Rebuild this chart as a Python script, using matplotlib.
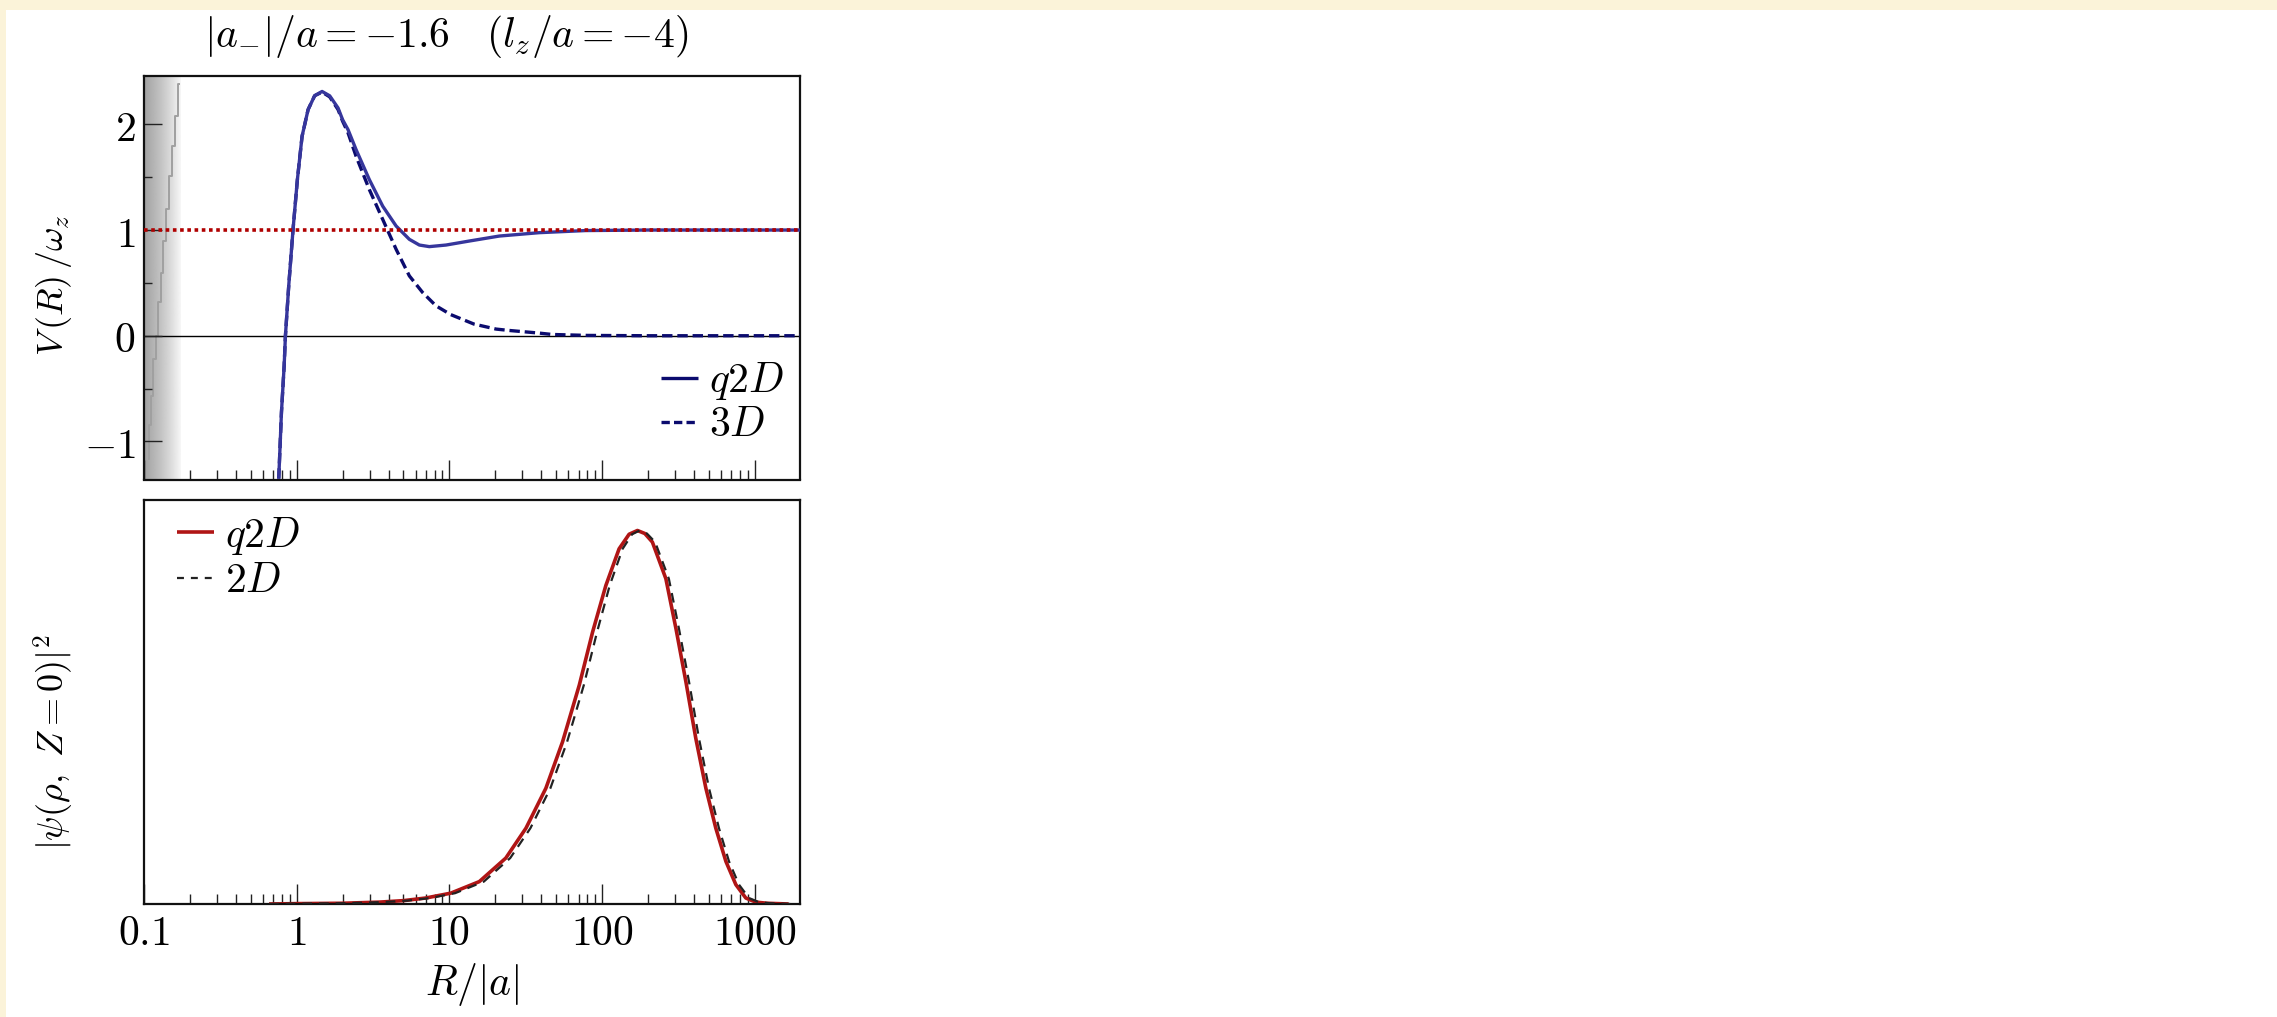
import matplotlib
matplotlib.use("Agg")
import numpy as np
import matplotlib.pyplot as plt
from matplotlib.lines import Line2D
from matplotlib.patches import Rectangle

plt.rcParams['mathtext.fontset'] = 'cm'
plt.rcParams['font.family'] = ['DejaVu Serif']
plt.rcParams['lines.scale_dashes'] = False
plt.rcParams['lines.solid_capstyle'] = 'butt'

# ---------------- data ----------------
xticks = [0.1, 1, 10, 100, 1000]
xtick_labels = ['0.1', '1', '10', '100', '1000']
yticks_top = [-1, 0, 1, 2]
ytick_labels_top = ['-1', '0', '1', '2']
yminor_top = [-0.5, 0.5, 1.5]

# top panel: potentials
R_q2d = [0.764, 0.796, 0.829, 0.845, 0.888, 0.948, 1.012, 1.086, 1.189, 1.313, 1.468,
         1.646, 1.867, 2.00, 2.17, 2.45, 2.99, 3.66, 4.48, 5.47, 6.36, 7.39, 9.5,
         13.5, 21.2, 38.7, 78, 200, 2000]
V_q2d = [-1.352, -0.723, -0.283, 0.0, 0.472, 1.007, 1.478, 1.887, 2.139, 2.271, 2.311,
         2.27, 2.155, 2.044, 1.95, 1.761, 1.478, 1.226, 1.038, 0.912, 0.858, 0.843, 0.858,
         0.896, 0.943, 0.975, 0.995, 1.0, 1.0]

R_3d = [0.764, 0.796, 0.829, 0.845, 0.888, 0.948, 1.012, 1.086, 1.189, 1.313, 1.468,
        1.646, 1.867, 2.00, 2.17, 2.45, 2.99, 3.66, 4.48, 5.47, 6.68, 8.17, 10.2,
        14.5, 20.2, 24.6, 38.7, 47, 80, 200, 2000]
V_3d = [-1.352, -0.723, -0.283, 0.0, 0.472, 1.007, 1.478, 1.887, 2.139, 2.271, 2.305,
        2.26, 2.14, 2.03, 1.92, 1.698, 1.384, 1.101, 0.818, 0.566, 0.409, 0.283, 0.20,
        0.11, 0.063, 0.05, 0.025, 0.012, 0.003, 0.0, 0.0]

threshold = 1.0

# gray staircase at short range
R_stair = [0.1062, 0.1090, 0.1128, 0.1175, 0.1216, 0.1266, 0.1311, 0.1380, 0.1435,
           0.151, 0.1563, 0.163, 0.173]
V_stair = [-1.163, -0.849, -0.566, -0.22, 0.0, 0.315, 0.598, 0.896, 1.195, 1.509,
           1.792, 2.075, 2.384]
shade_range = [0.1, 0.176]

# bottom panel: wavefunctions (normalised to peak)
R_psi_q2d = [0.66, 1.0, 2.0, 3.47, 5.0, 7.0, 10.2, 15.7, 23.4, 31.7, 42.8, 55.0, 70.8,
             86.5, 105.7, 129, 150, 170, 190, 213, 261, 304, 353, 410, 477, 554, 645,
             749, 871, 1012, 1200, 1660]
psi_q2d = [0.0, 0.001, 0.002, 0.005, 0.009, 0.016, 0.029, 0.060, 0.123, 0.203, 0.31,
           0.434, 0.586, 0.728, 0.853, 0.951, 0.99, 1.0, 0.992, 0.969, 0.871, 0.737,
           0.595, 0.443, 0.31, 0.203, 0.114, 0.052, 0.016, 0.005, 0.002, 0.0]
R_psi_2d = [0.66, 1.0, 2.0, 3.6, 5.3, 7.5, 10.9, 16.8, 25.0, 33.9, 45.8, 58.9, 75.8,
            92.5, 112, 136, 157, 176, 196, 222, 273, 318, 370, 430, 500, 581, 676, 785,
            913, 1060, 1260, 1700]
psi_2d = [0.0, 0.001, 0.002, 0.005, 0.009, 0.016, 0.029, 0.060, 0.123, 0.203, 0.31,
          0.434, 0.586, 0.728, 0.853, 0.951, 0.99, 1.0, 0.992, 0.969, 0.871, 0.737,
          0.595, 0.443, 0.31, 0.203, 0.114, 0.052, 0.016, 0.005, 0.002, 0.0]

# ---------------- figure ----------------
W, H = 2277, 1017
fig = plt.figure(figsize=(W / 100, H / 100), dpi=100, facecolor='#fbf3d9')
fig.patches.append(Rectangle((6 / W, 0), 1, 1 - 10 / H, transform=fig.transFigure,
                             facecolor='white', edgecolor='none', zorder=-10))

FS = 30
FS_YL = 26
C_SOLID = '#36369c'
C_DASH = '#0b0b6e'
C_RED = '#b01515'

XMIN, XMAX = 0.1, 1970

def px_axes(left, top, right, bottom):
    return fig.add_axes([left / W, 1 - bottom / H, (right - left) / W, (bottom - top) / H])

ax1 = px_axes(143.8, 75.7, 800, 479.5)
ax2 = px_axes(143.8, 499.5, 800, 904)

for ax in (ax1, ax2):
    ax.set_xscale('log')
    for s in ax.spines.values():
        s.set_linewidth(1.6)
        s.set_color('#111111')

# ---- top panel ----
YMIN, YMAX = -1.36, 2.46
grad = np.linspace(0.64, 0.98, 256).reshape(1, -1)
ax1.imshow(grad, extent=[shade_range[0], shade_range[1], YMIN, YMAX], aspect='auto',
           cmap='gray', vmin=0, vmax=1, zorder=0, interpolation='bilinear')
ax1.plot(R_stair, V_stair, color='#a0a0a0', lw=1.4, drawstyle='steps-mid', zorder=1)
ax1.axhline(0, color='black', lw=1.0, zorder=1)
ax1.plot(R_3d, V_3d, color=C_DASH, lw=2.4, dashes=(7.5, 3.5), zorder=3)
ax1.plot(R_q2d, V_q2d, color=C_SOLID, lw=2.4, zorder=3)
ax1.axhline(threshold, color='#b00000', lw=2.6, dashes=(2.6, 2.6), zorder=4)
ax1.set_xlim(XMIN, XMAX)
ax1.set_ylim(YMIN, YMAX)
ax1.set_yticks(yticks_top, labels=['$%s$' % t for t in ytick_labels_top])
ax1.set_yticks(yminor_top, minor=True)
ax1.set_xticks(xticks)
ax1.tick_params(axis='x', which='both', labelbottom=False)
ax1.tick_params(which='both', direction='in', top=False, right=False, width=1.0,
                color='#222222')
ax1.tick_params(axis='x', which='major', length=14.5)
ax1.tick_params(axis='x', which='minor', length=7.5)
ax1.tick_params(axis='y', which='major', length=13, labelsize=FS, pad=6)
ax1.tick_params(axis='y', which='minor', length=6)

h_top = [Line2D([], [], color=C_DASH, lw=2.4),
         Line2D([], [], color=C_DASH, lw=2.4, dashes=(6, 3))]
ax1.legend(h_top, ['$q2D$', '$3D$'], loc='lower right', bbox_to_anchor=(0.975, 0.085),
           frameon=False, fontsize=FS, handlelength=0.9, handletextpad=0.25,
           labelspacing=0.02, borderpad=0, borderaxespad=0)

# ---- bottom panel ----
ax2.plot(R_psi_2d, psi_2d, color='#222222', lw=1.6, dashes=(7, 5), zorder=3)
ax2.plot(R_psi_q2d, psi_q2d, color=C_RED, lw=2.6, zorder=2)
ax2.set_xlim(XMIN, XMAX)
ax2.set_ylim(0, 1.083)
ax2.set_yticks([])
ax2.set_xticks(xticks, labels=['$%s$' % t for t in xtick_labels])
ax2.tick_params(which='both', direction='in', top=False, right=False, width=1.0,
                color='#222222')
ax2.tick_params(axis='x', which='major', length=14.5, labelsize=FS, pad=6)
ax2.tick_params(axis='x', which='minor', length=7.5)

h_bot = [Line2D([], [], color=C_RED, lw=2.6),
         Line2D([], [], color='#222222', lw=1.6, dashes=(5, 5))]
ax2.legend(h_bot, ['$q2D$', '$2D$'], loc='upper left', bbox_to_anchor=(0.05, 0.965),
           frameon=False, fontsize=FS, handlelength=0.9, handletextpad=0.25,
           labelspacing=0.06, borderpad=0, borderaxespad=0)

# ---- texts ----
fig.text(446 / W, 1 - 36 / H, r'$|a_{-}|/a=-1.6\quad(l_z/a=-4)$', fontsize=FS,
         ha='center', va='center')
fig.text(54 / W, 1 - 285 / H, r'$V\,(R)\,/\omega_z$', fontsize=FS_YL, rotation=90,
         ha='center', va='center')
fig.text(54 / W, 1 - 742 / H, r'$|\psi(\rho,\ Z=0)|^2$', fontsize=FS_YL,
         rotation=90, ha='center', va='center')
fig.text(472 / W, 1 - 984 / H, r'$R/|a|$', fontsize=FS, ha='center', va='center')

fig.savefig('out.png', dpi=100, facecolor=fig.get_facecolor())
